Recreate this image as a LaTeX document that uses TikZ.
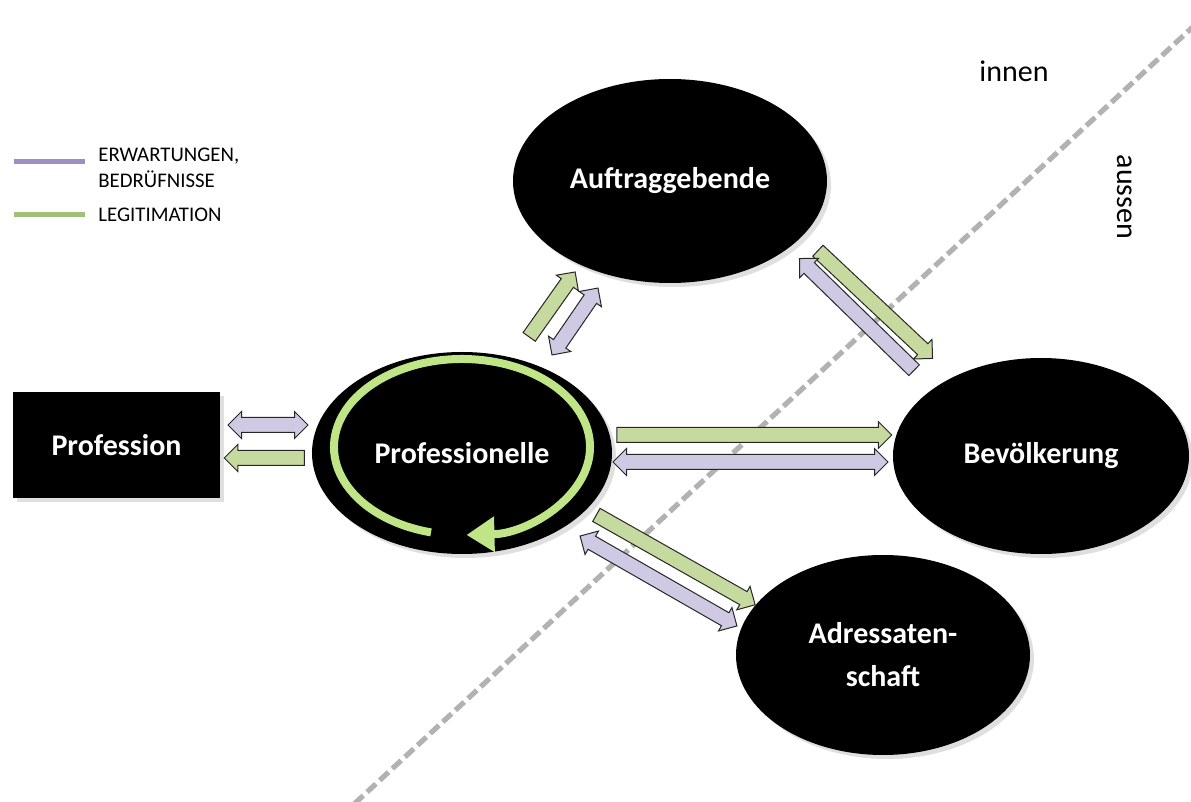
\documentclass[tikz,border=0pt]{standalone}
\usepackage{fontspec}
\setmainfont{Carlito}
\usetikzlibrary{shapes.geometric,shapes.arrows,arrows.meta,calc,shadows,positioning}

\definecolor{legitfill}{RGB}{198,218,160}
\definecolor{erwartfill}{RGB}{208,201,227}
\definecolor{legitline}{RGB}{163,192,122}
\definecolor{erwartline}{RGB}{157,143,194}
\definecolor{ringgreen}{RGB}{192,229,134}
\definecolor{bordergray}{RGB}{178,178,178}

\tikzset{
  actor/.style={ellipse, fill=black, text=white, align=center, inner sep=0pt,
    font=\fontsize{15}{21.5}\selectfont\bfseries,
    drop shadow={shadow xshift=2pt, shadow yshift=-2pt, opacity=0.25}},
  group/.style={rectangle, fill=black, text=white, inner sep=0pt,
    font=\fontsize{15}{18}\selectfont\bfseries,
    drop shadow={shadow xshift=2pt, shadow yshift=-2pt, opacity=0.25}},
  arrowbase/.style={draw=black!85, line width=0.5pt, inner sep=3.5pt, minimum width=0pt},
  legit/.style={arrowbase, single arrow, single arrow head extend=3pt, fill=legitfill},
  erwart/.style={arrowbase, double arrow, double arrow head extend=3pt, fill=erwartfill},
  erwartone/.style={arrowbase, single arrow, single arrow head extend=3pt, fill=erwartfill},
  legend/.style={font=\fontsize{10.4}{13}\selectfont, anchor=west, align=left, inner sep=0pt},
  side/.style={font=\fontsize{15}{18}\selectfont, inner sep=0pt},
}

% block arrow from #2 to #3
\newcommand{\flow}[3]{%
  \path let \p1=($(#3)-(#2)$), \n1={veclen(\x1,\y1)}, \n2={atan2(\y1,\x1)} in
    node[#1, minimum height=\n1, rotate=\n2] at ($(#2)!0.5!(#3)$) {};%
}

\begin{document}
\begin{tikzpicture}[x=0.5pt, y=-0.5pt]
  \useasboundingbox (0,0) rectangle (1191,802);

  % innen / aussen
  \coordinate (div-top) at (1196,24); %
  \coordinate (div-bot) at (352,806); %
  \draw[bordergray, line width=2.6pt, dash pattern=on 6pt off 2.6pt] (div-top) -- (div-bot);
  \node[side] (innen) at (1014,71) {innen};
  \node[side, rotate=-90] (aussen) at (1125,197) {aussen};

  % legend
  \coordinate (erw-a) at (14,162); \coordinate (erw-b) at (85,162);
  \coordinate (leg-a) at (14,215); \coordinate (leg-b) at (85,215);
  \draw[erwartline, line width=2.5pt] (erw-a) -- (erw-b);
  \draw[legitline, line width=2.5pt] (leg-a) -- (leg-b);
  \node[legend] (erw-text) at (98,168) {ERWARTUNGEN,\\BEDRÜFNISSE};
  \node[legend] (leg-text) at (98,215) {LEGITIMATION};

  % actors
  \node[actor, minimum width=150pt, minimum height=101pt] (prof) at (462,453) {Professionelle};
  \node[group, minimum width=103.5pt, minimum height=53pt] (profession) at (116.5,445) {Profession};
  \node[actor, minimum width=157pt, minimum height=102pt] (auftrag) at (670,181) {Auftraggebende};
  \node[actor, minimum width=148pt, minimum height=98pt] (bevoelk) at (1041,456) {Bevölkerung};
  \node[actor, minimum width=147pt, minimum height=100pt] (adress) at (883,655) {Adressaten-\\schaft};

  % self-legitimation ring
  \coordinate (loop) at (462,447);
  \draw[ringgreen, line width=4pt, -{Triangle[width=17pt, length=14pt]}]
    ($(loop)+(104:128 and 88)$) arc[start angle=104, end angle=448, x radius=128, y radius=88];

  % Profession <-> Professionelle
  \coordinate (p1a) at (228,425); \coordinate (p1b) at (308,425);
  \coordinate (p2a) at (308,458); \coordinate (p2b) at (228,458);
  \flow{erwart}{p1a}{p1b}
  \flow{legit}{p2a}{p2b}

  % Professionelle <-> Auftraggebende
  \coordinate (a1a) at (527,340); \coordinate (a1b) at (573,275);
  \coordinate (a2a) at (552,355); \coordinate (a2b) at (598,288);
  \flow{legit}{a1a}{a1b}
  \flow{erwart}{a2a}{a2b}

  % Auftraggebende <-> Bevoelkerung
  \coordinate (b1a) at (815,248); \coordinate (b1b) at (930,356);
  \coordinate (b2a) at (917,373); \coordinate (b2b) at (802,261);
  \flow{legit}{b1a}{b1b}
  \flow{erwartone}{b2a}{b2b}

  % Professionelle <-> Bevoelkerung
  \coordinate (c1a) at (613,435); \coordinate (c1b) at (888,435);
  \coordinate (c2a) at (613,462); \coordinate (c2b) at (888,462);
  \flow{legit}{c1a}{c1b}
  \flow{erwart}{c2a}{c2b}

  % Professionelle <-> Adressatenschaft
  \coordinate (d1a) at (593,513); \coordinate (d1b) at (752,603);
  \coordinate (d2a) at (580,536); \coordinate (d2b) at (737,626);
  \flow{legit}{d1a}{d1b}
  \flow{erwart}{d2a}{d2b}

\end{tikzpicture}
\end{document}
